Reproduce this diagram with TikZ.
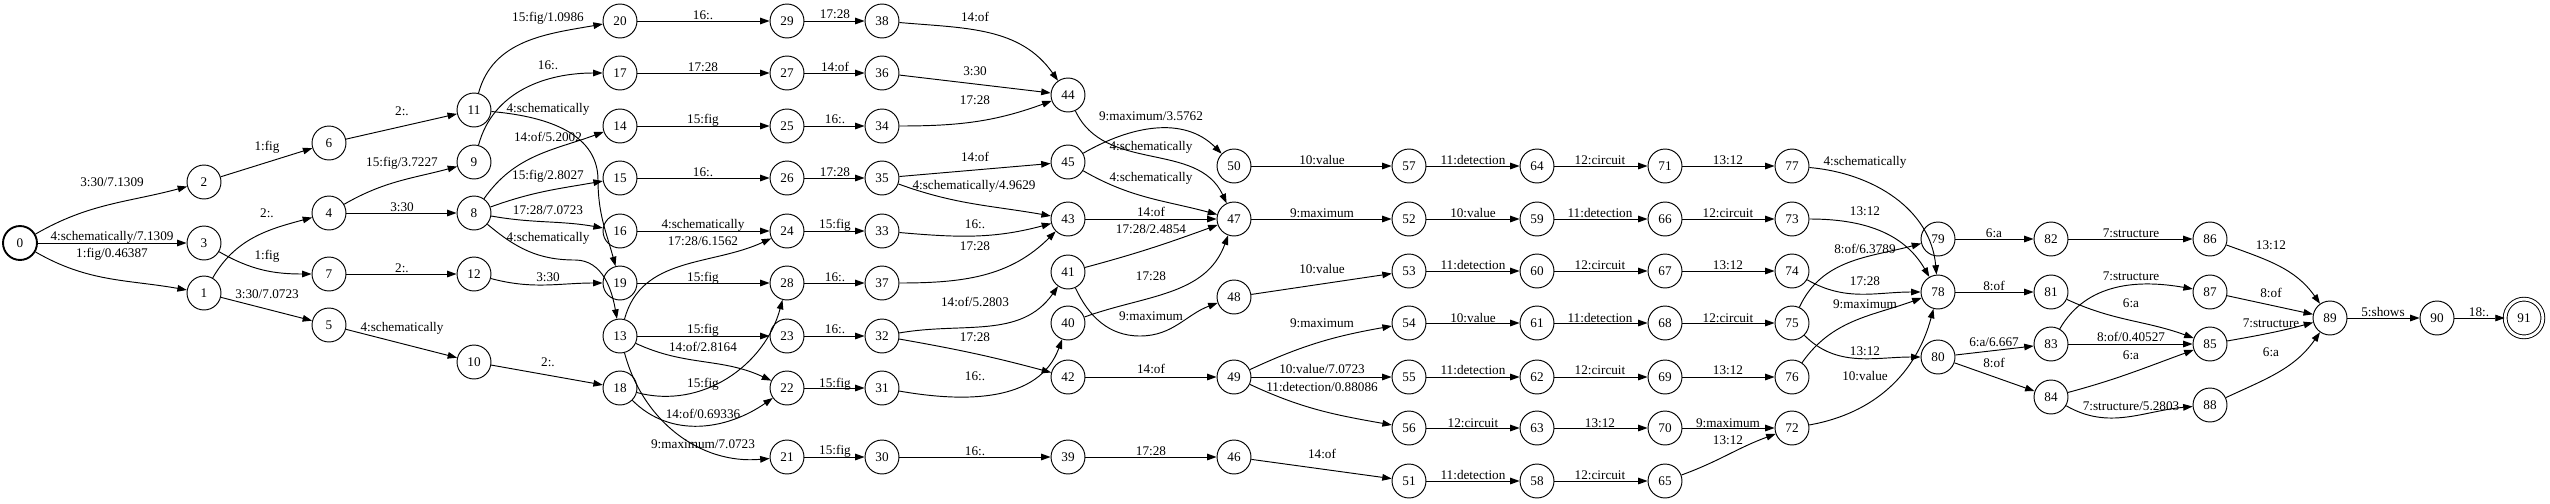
\documentclass[tikz,border=0pt]{standalone}
\usepackage{fontspec}
\setmainfont{Liberation Serif}
\usetikzlibrary{arrows.meta}

\begin{document}
\begin{tikzpicture}[x=1.06pt, y=-1.06pt,
	st/.style={circle, draw, line width=1pt, minimum size=36pt, inner sep=0pt, font=\fontsize{14}{16}\selectfont},
	lbl/.style={inner sep=0pt, text height=9.5pt, text depth=0pt, font=\fontsize{14}{16}\selectfont},
	tr/.style={line width=1pt, -{Triangle[length=10pt, width=7pt]}}]
	\useasboundingbox (0,0) rectangle (2550,503);
	% states
	\node[st, line width=2pt] (S0) at (20,243) {0};
	\node[st] (S2) at (204,182) {2};  \node[st] (S3) at (204,243) {3};  \node[st] (S1) at (204,293) {1};
	\node[st] (S6) at (329,143) {6};  \node[st] (S4) at (329,213) {4};  \node[st] (S7) at (329,274) {7};  \node[st] (S5) at (329,325) {5};
	\node[st] (S11) at (474,110) {11}; \node[st] (S9) at (474,162) {9}; \node[st] (S8) at (474,213) {8};
	\node[st] (S12) at (474,274) {12}; \node[st] (S10) at (474,362) {10};
	\node[st] (S20) at (620,21) {20};  \node[st] (S17) at (620,73) {17};  \node[st] (S14) at (620,126) {14};
	\node[st] (S15) at (620,178) {15}; \node[st] (S16) at (620,231) {16}; \node[st] (S19) at (620,283) {19};
	\node[st] (S13) at (620,336) {13}; \node[st] (S18) at (620,388) {18};
	\node[st] (S29) at (787,21) {29};  \node[st] (S27) at (787,73) {27};  \node[st] (S25) at (787,126) {25};
	\node[st] (S26) at (787,178) {26}; \node[st] (S24) at (787,231) {24}; \node[st] (S28) at (787,283) {28};
	\node[st] (S23) at (787,336) {23}; \node[st] (S22) at (787,388) {22}; \node[st] (S21) at (787,457) {21};
	\node[st] (S38) at (882,21) {38};  \node[st] (S36) at (882,73) {36};  \node[st] (S34) at (882,126) {34};
	\node[st] (S35) at (882,178) {35}; \node[st] (S33) at (882,231) {33}; \node[st] (S37) at (882,283) {37};
	\node[st] (S32) at (882,336) {32}; \node[st] (S31) at (882,388) {31}; \node[st] (S30) at (882,457) {30};
	\node[st] (S44) at (1068,95) {44};  \node[st] (S45) at (1068,162) {45}; \node[st] (S43) at (1068,219) {43};
	\node[st] (S41) at (1068,272) {41}; \node[st] (S40) at (1068,323) {40}; \node[st] (S42) at (1068,377) {42};
	\node[st] (S39) at (1068,457) {39};
	\node[st] (S50) at (1234,166) {50}; \node[st] (S47) at (1234,219) {47}; \node[st] (S48) at (1234,297) {48};
	\node[st] (S49) at (1234,377) {49}; \node[st] (S46) at (1234,457) {46};
	\node[st] (S57) at (1409,166) {57}; \node[st] (S52) at (1409,219) {52}; \node[st] (S53) at (1409,271) {53};
	\node[st] (S54) at (1409,323) {54}; \node[st] (S55) at (1409,377) {55}; \node[st] (S56) at (1409,428) {56};
	\node[st] (S51) at (1409,481) {51};
	\node[st] (S64) at (1537,166) {64}; \node[st] (S59) at (1537,219) {59}; \node[st] (S60) at (1537,271) {60};
	\node[st] (S61) at (1537,323) {61}; \node[st] (S62) at (1537,377) {62}; \node[st] (S63) at (1537,428) {63};
	\node[st] (S58) at (1537,481) {58};
	\node[st] (S71) at (1665,166) {71}; \node[st] (S66) at (1665,219) {66}; \node[st] (S67) at (1665,271) {67};
	\node[st] (S68) at (1665,323) {68}; \node[st] (S69) at (1665,377) {69}; \node[st] (S70) at (1665,428) {70};
	\node[st] (S65) at (1665,481) {65};
	\node[st] (S77) at (1792,166) {77}; \node[st] (S73) at (1792,219) {73}; \node[st] (S74) at (1792,271) {74};
	\node[st] (S75) at (1792,323) {75}; \node[st] (S76) at (1792,377) {76}; \node[st] (S72) at (1792,428) {72};
	\node[st] (S79) at (1938,239) {79}; \node[st] (S78) at (1938,292) {78}; \node[st] (S80) at (1938,357) {80};
	\node[st] (S82) at (2051,239) {82}; \node[st] (S81) at (2051,292) {81}; \node[st] (S83) at (2051,344) {83};
	\node[st] (S84) at (2051,397) {84};
	\node[st] (S86) at (2210,239) {86}; \node[st] (S87) at (2210,292) {87}; \node[st] (S85) at (2210,344) {85};
	\node[st] (S88) at (2210,405) {88};
	\node[st] (S89) at (2330,318) {89}; \node[st] (S90) at (2437,318) {90};
	\node[st, minimum size=40pt, double, double distance=3pt] (S91) at (2524,318) {91};
	% arcs
	\draw[tr] (S0) to[out=30,in=195] (S2) node[lbl] at (112,182) {3:30/7.1309};
	\draw[tr] (S0) -- (S3) node[lbl] at (112,236) {4:schematically/7.1309};
	\draw[tr] (S0) to[out=-30,in=170] (S1) node[lbl] at (112,253) {1:fig/0.46387};
	\draw[tr] (S2) -- (S6) node[lbl] at (267,146) {1:fig};
	\draw[tr] (S1) to[out=60,in=195] (S4) node[lbl] at (267,213) {2:.};
	\draw[tr] (S3) to[out=-30,in=180] (S7) node[lbl] at (267,255) {1:fig};
	\draw[tr] (S1) -- (S5) node[lbl] at (267,294) {3:30/7.0723};
	\draw[tr] (S6) -- (S11) node[lbl] at (402,111) {2:.};
	\draw[tr] (S4) to[out=30,in=195] (S9) node[lbl] at (402,162) {15:fig/3.7227};
	\draw[tr] (S4) -- (S8) node[lbl] at (402,207) {3:30};
	\draw[tr] (S7) -- (S12) node[lbl] at (402,268) {2:.};
	\draw[tr] (S5) -- (S10) node[lbl] at (402,327) {4:schematically};
	\draw[tr] (S11) to[out=75,in=190] (S20) node[lbl] at (548,17) {15:fig/1.0986};
	\draw[tr] (S9) to[out=75,in=180] (S17) node[lbl] at (548,65) {16:.};
	\draw[tr] (S11) to[out=-5,in=90] (598,180) to[out=-90,in=105] (S19) node[lbl] at (548,108) {4:schematically};
	\draw[tr] (S8) to[out=55,in=200] (S14) node[lbl] at (548,137) {14:of/5.2002};
	\draw[tr] (S8) to[out=20,in=190] (S15) node[lbl] at (548,175) {15:fig/2.8027};
	\draw[tr] (S8) to[out=-10,in=170] (S16) node[lbl] at (548,210) {17:28/7.0723};
	\draw[tr] (S8) to[out=-40,in=180] (575,260) to[out=0,in=100] (S13) node[lbl] at (548,237) {4:schematically};
	\draw[tr] (S12) to[out=-15,in=180] (S19) node[lbl] at (548,277) {3:30};
	\draw[tr] (S10) -- (S18) node[lbl] at (548,362) {2:.};
	\draw[tr] (S20) -- (S29) node[lbl] at (703,15) {16:.};
	\draw[tr] (S17) -- (S27) node[lbl] at (703,67) {17:28};
	\draw[tr] (S14) -- (S25) node[lbl] at (703,119) {15:fig};
	\draw[tr] (S15) -- (S26) node[lbl] at (703,172) {16:.};
	\draw[tr] (S16) -- (S24) node[lbl] at (703,224) {4:schematically};
	\draw[tr] (S13) to[out=75,in=205] (S24) node[lbl] at (703,241) {17:28/6.1562};
	\draw[tr] (S19) -- (S28) node[lbl] at (703,277) {15:fig};
	\draw[tr] (S13) -- (S23) node[lbl] at (703,329) {15:fig};
	\draw[tr] (S13) to[out=-25,in=155] (S22) node[lbl] at (703,347) {14:of/2.8164};
	\draw[tr] (S18) to[out=-15,in=255] (S28) node[lbl] at (703,383) {15:fig};
	\draw[tr] (S18) to[out=-45,in=215] (S22) node[lbl] at (703,414) {14:of/0.69336};
	\draw[tr] (S13) to[out=-75,in=185] (S21) node[lbl] at (703,444) {9:maximum/7.0723};
	\draw[tr] (S29) -- (S38) node[lbl] at (835,14) {17:28};
	\draw[tr] (S27) -- (S36) node[lbl] at (835,67) {14:of};
	\draw[tr] (S25) -- (S34) node[lbl] at (835,119) {16:.};
	\draw[tr] (S26) -- (S35) node[lbl] at (835,172) {17:28};
	\draw[tr] (S24) -- (S33) node[lbl] at (835,224) {15:fig};
	\draw[tr] (S28) -- (S37) node[lbl] at (835,277) {16:.};
	\draw[tr] (S23) -- (S32) node[lbl] at (835,329) {16:.};
	\draw[tr] (S22) -- (S31) node[lbl] at (835,383) {15:fig};
	\draw[tr] (S21) -- (S30) node[lbl] at (835,450) {15:fig};
	\draw[tr] (S38) to[out=-5,in=125] (S44) node[lbl] at (975,17) {14:of};
	\draw[tr] (S36) -- (S44) node[lbl] at (975,71) {3:30};
	\draw[tr] (S34) to[out=0,in=200] (S44) node[lbl] at (975,100) {17:28};
	\draw[tr] (S35) -- (S45) node[lbl] at (975,157) {14:of};
	\draw[tr] (S35) to[out=-20,in=170] (S43) node[lbl] at (974,185) {4:schematically/4.9629};
	\draw[tr] (S33) to[out=-5,in=195] (S43) node[lbl] at (975,224) {16:.};
	\draw[tr] (S37) to[out=0,in=225] (S43) node[lbl] at (975,246) {17:28};
	\draw[tr] (S32) to[out=10,in=235] (S41) node[lbl] at (975,302) {14:of/5.2803};
	\draw[tr] (S32) to[out=-10,in=165] (S42) node[lbl] at (975,337) {17:28};
	\draw[tr] (S31) to[out=-10,in=250] (S40) node[lbl] at (975,376) {16:.};
	\draw[tr] (S30) -- (S39) node[lbl] at (975,451) {16:.};
	\draw[tr] (S45) to[out=30,in=135] (S50) node[lbl] at (1151,116) {9:maximum/3.5762};
	\draw[tr] (S44) to[out=-65,in=115] (S47) node[lbl] at (1151,146) {4:schematically};
	\draw[tr] (S45) to[out=-30,in=165] (S47) node[lbl] at (1151,177) {4:schematically};
	\draw[tr] (S43) -- (S47) node[lbl] at (1151,212) {14:of};
	\draw[tr] (S41) to[out=15,in=200] (S47) node[lbl] at (1151,229) {17:28/2.4854};
	\draw[tr] (S40) to[out=20,in=250] (S47) node[lbl] at (1151,276) {17:28};
	\draw[tr] (S41) to[out=-65,in=180] (1140,336) to[out=0,in=200] (S48) node[lbl] at (1151,316) {9:maximum};
	\draw[tr] (S42) -- (S49) node[lbl] at (1151,369) {14:of};
	\draw[tr] (S39) -- (S46) node[lbl] at (1151,451) {17:28};
	\draw[tr] (S50) -- (S57) node[lbl] at (1322,160) {10:value};
	\draw[tr] (S47) -- (S52) node[lbl] at (1322,213) {9:maximum};
	\draw[tr] (S48) -- (S53) node[lbl] at (1322,269) {10:value};
	\draw[tr] (S49) to[out=25,in=190] (S54) node[lbl] at (1322,323) {9:maximum};
	\draw[tr] (S49) -- (S55) node[lbl] at (1322,369) {10:value/7.0723};
	\draw[tr] (S49) to[out=-25,in=170] (S56) node[lbl] at (1322,387) {11:detection/0.88086};
	\draw[tr] (S46) -- (S51) node[lbl] at (1322,454) {14:of};
	\draw[tr] (S57) -- (S64) node[lbl] at (1473,160) {11:detection};
	\draw[tr] (S52) -- (S59) node[lbl] at (1473,213) {10:value};
	\draw[tr] (S53) -- (S60) node[lbl] at (1473,265) {11:detection};
	\draw[tr] (S54) -- (S61) node[lbl] at (1473,318) {10:value};
	\draw[tr] (S55) -- (S62) node[lbl] at (1473,370) {11:detection};
	\draw[tr] (S56) -- (S63) node[lbl] at (1473,423) {12:circuit};
	\draw[tr] (S51) -- (S58) node[lbl] at (1473,475) {11:detection};
	\draw[tr] (S64) -- (S71) node[lbl] at (1600,160) {12:circuit};
	\draw[tr] (S59) -- (S66) node[lbl] at (1600,213) {11:detection};
	\draw[tr] (S60) -- (S67) node[lbl] at (1600,265) {12:circuit};
	\draw[tr] (S61) -- (S68) node[lbl] at (1600,318) {11:detection};
	\draw[tr] (S62) -- (S69) node[lbl] at (1600,370) {12:circuit};
	\draw[tr] (S63) -- (S70) node[lbl] at (1600,423) {13:12};
	\draw[tr] (S58) -- (S65) node[lbl] at (1600,475) {12:circuit};
	\draw[tr] (S71) -- (S77) node[lbl] at (1728,160) {13:12};
	\draw[tr] (S66) -- (S73) node[lbl] at (1728,213) {12:circuit};
	\draw[tr] (S67) -- (S74) node[lbl] at (1728,265) {13:12};
	\draw[tr] (S68) -- (S75) node[lbl] at (1728,318) {12:circuit};
	\draw[tr] (S69) -- (S76) node[lbl] at (1728,370) {13:12};
	\draw[tr] (S70) -- (S72) node[lbl] at (1728,423) {9:maximum};
	\draw[tr] (S65) to[out=20,in=200] (S72) node[lbl] at (1728,440) {13:12};
	\draw[tr] (S77) to[out=-5,in=95] (S78) node[lbl] at (1865,161) {4:schematically};
	\draw[tr] (S73) to[out=0,in=120] (S78) node[lbl] at (1865,211) {13:12};
	\draw[tr] (S75) to[out=65,in=195] (S79) node[lbl] at (1865,249) {8:of/6.3789};
	\draw[tr] (S74) to[out=-30,in=180] (S78) node[lbl] at (1865,281) {17:28};
	\draw[tr] (S76) to[out=55,in=200] (S78) node[lbl] at (1865,304) {9:maximum};
	\draw[tr] (S75) to[out=-45,in=180] (S80) node[lbl] at (1865,351) {13:12};
	\draw[tr] (S72) to[out=10,in=255] (S78) node[lbl] at (1865,376) {10:value};
	\draw[tr] (S79) -- (S82) node[lbl] at (1994,233) {6:a};
	\draw[tr] (S78) -- (S81) node[lbl] at (1994,286) {8:of};
	\draw[tr] (S80) -- (S83) node[lbl] at (1994,342) {6:a/6.667};
	\draw[tr] (S80) -- (S84) node[lbl] at (1994,363) {8:of};
	\draw[tr] (S82) -- (S86) node[lbl] at (2131,233) {7:structure};
	\draw[tr] (S83) to[out=60,in=170] (S87) node[lbl] at (2131,276) {7:structure};
	\draw[tr] (S81) to[out=-25,in=160] (S85) node[lbl] at (2131,303) {6:a};
	\draw[tr] (S83) -- (S85) node[lbl] at (2131,337) {8:of/0.40527};
	\draw[tr] (S84) to[out=15,in=200] (S85) node[lbl] at (2131,355) {6:a};
	\draw[tr] (S84) to[out=-30,in=185] (S88) node[lbl] at (2131,406) {7:structure/5.2803};
	\draw[tr] (S86) to[out=-20,in=125] (S89) node[lbl] at (2271,245) {13:12};
	\draw[tr] (S87) -- (S89) node[lbl] at (2271,293) {8:of};
	\draw[tr] (S85) to[out=10,in=195] (S89) node[lbl] at (2271,323) {7:structure};
	\draw[tr] (S88) to[out=25,in=235] (S89) node[lbl] at (2271,352) {6:a};
	\draw[tr] (S89) -- (S90) node[lbl] at (2383,312) {5:shows};
	\draw[tr] (S90) -- (S91) node[lbl] at (2479,312) {18:.};
\end{tikzpicture}
\end{document}
